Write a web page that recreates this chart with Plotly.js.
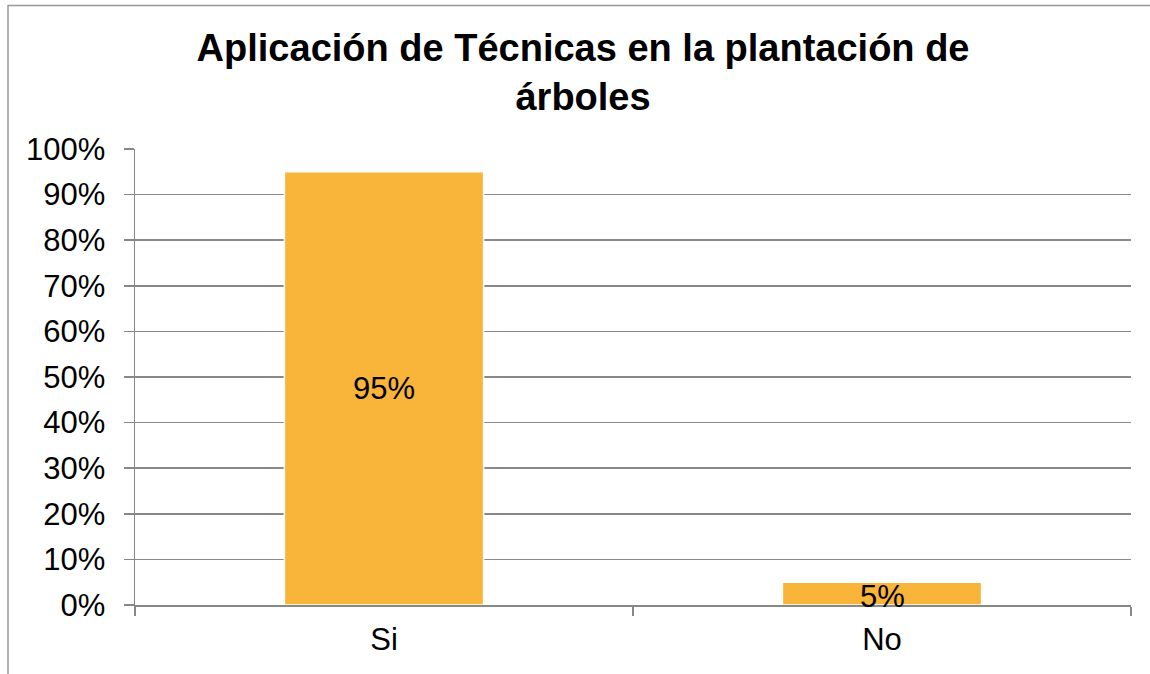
<!DOCTYPE html>
<html>
<head>
<meta charset="utf-8">
<script src="https://cdn.plot.ly/plotly-3.0.1.min.js"></script>
<style>html,body{margin:0;padding:0;background:#fff;}#chart{width:1150px;height:674px;}</style>
</head>
<body>
<div id="chart"></div>
<script>
const chartTitle = "Aplicación de Técnicas en la plantación de<br>árboles";
const categories = ["Si", "No"];
const values = [0.95, 0.05];
const valueLabels = ["95%", "5%"];

const W = 1150, H = 674;
const m = {l: 135, r: 19, t: 149, b: 69};
const pw = W - m.l - m.r, ph = H - m.t - m.b;
const px = x => (x - m.l) / pw;
const py = y => (H - m.b - y) / ph;
const FONT = "Liberation Sans, Arial, sans-serif";

const trace = {
  type: "bar",
  x: categories,
  y: values,
  marker: {color: "#F9B43A", line: {color: "#ffffff", width: 1.5}},
  textposition: "none",
  hoverinfo: "skip"
};

const annotations = categories.map((c, i) => ({
  x: c, y: values[i] / 2, xref: "x", yref: "y",
  text: valueLabels[i], showarrow: false,
  font: {family: FONT, size: 31, color: "#000"},
  yshift: i === 1 ? -3 : 0
}));

const layout = {
  width: W, height: H,
  margin: m,
  paper_bgcolor: "#fff", plot_bgcolor: "#fff",
  showlegend: false,
  bargap: 0.6,
  title: {
    text: chartTitle,
    font: {family: FONT, size: 38, color: "#000", weight: "bold"},
    xref: "container", yref: "container", x: 0.507, y: 1 - 61 / H, xanchor: "center", yanchor: "middle"
  },
  font: {family: FONT, size: 31, color: "#000"},
  xaxis: {
    type: "category",
    tickson: "boundaries",
    ticks: "outside", ticklen: 9, tickwidth: 1.5, tickcolor: "#888",
    showline: true, linecolor: "#888", linewidth: 1.5,
    showgrid: false,
    tickfont: {family: FONT, size: 31, color: "#000"},
    ticklabelstandoff: 6
  },
  yaxis: {
    range: [0, 1], dtick: 0.1, tickformat: ".0%",
    showgrid: true, gridcolor: "#888", gridwidth: 1.5,
    showline: true, linecolor: "#888", linewidth: 1.5,
    ticks: "outside", ticklen: 10, tickwidth: 1.5, tickcolor: "#888",
    zeroline: false,
    tickfont: {family: FONT, size: 31, color: "#000"},
    ticklabelstandoff: 12
  },
  annotations: annotations,
  shapes: [
    {type: "line", xref: "paper", yref: "paper", x0: px(8), x1: px(1150), y0: py(5.5), y1: py(5.5), line: {color: "#999", width: 1.5}},
    {type: "line", xref: "paper", yref: "paper", x0: px(8), x1: px(8), y0: py(5), y1: py(674), line: {color: "#999", width: 1.5}}
  ]
};

Plotly.newPlot("chart", [trace], layout, {displayModeBar: false, staticPlot: true});
</script>
</body>
</html>
